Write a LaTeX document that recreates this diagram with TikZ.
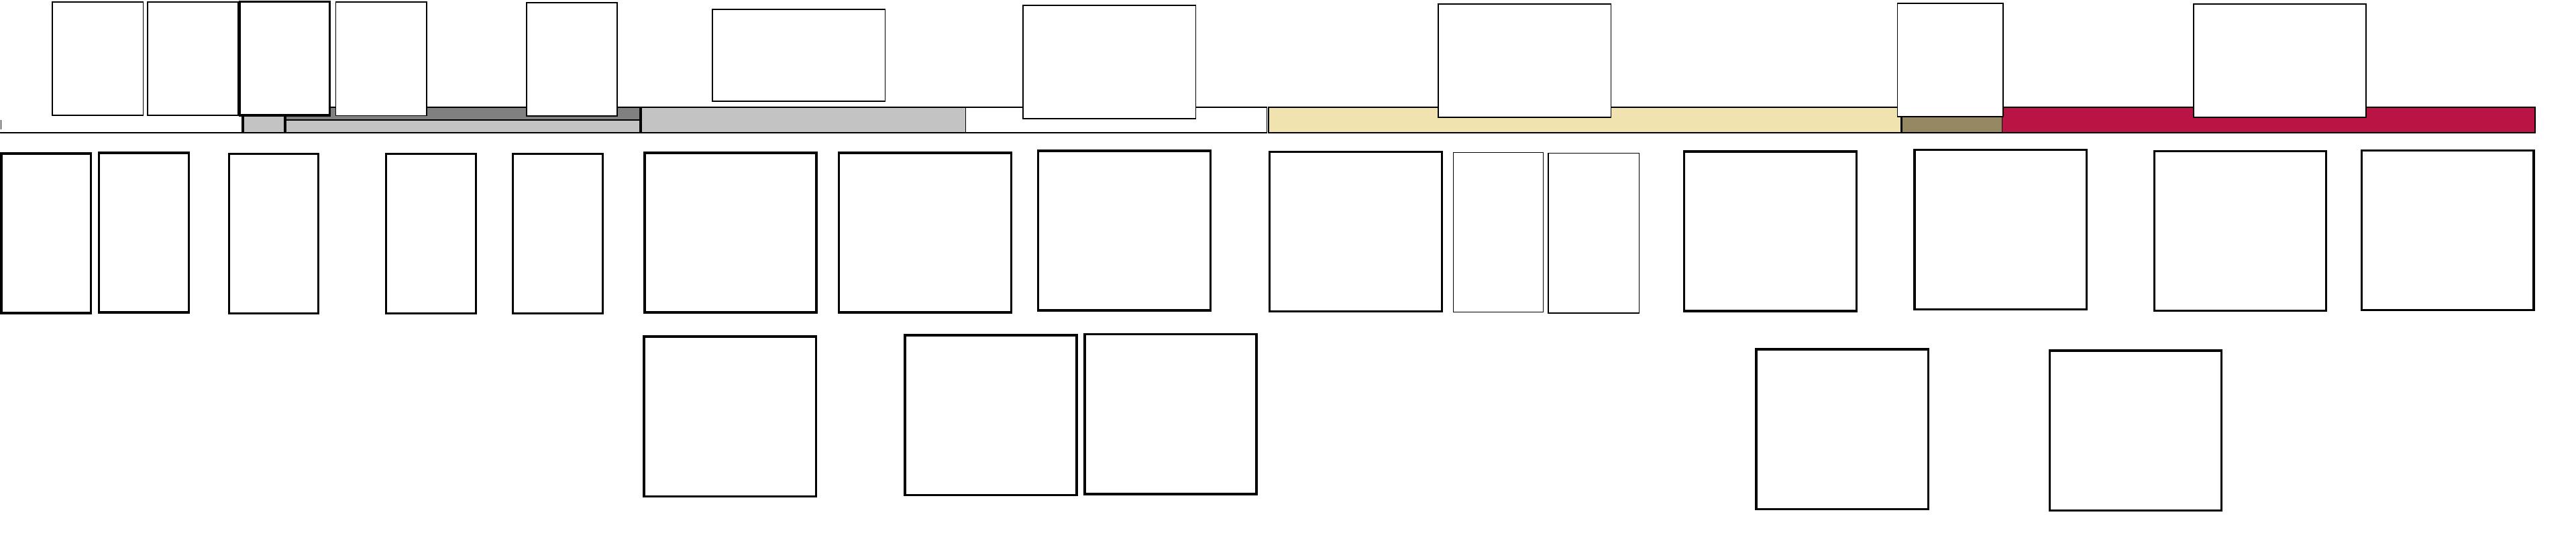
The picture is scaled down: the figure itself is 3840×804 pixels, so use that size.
\documentclass[tikz,border=0pt]{standalone}
\definecolor{lgray}{RGB}{195,195,195}
\definecolor{dgray}{RGB}{128,128,128}
\definecolor{sand}{RGB}{240,227,175}
\definecolor{olive}{RGB}{149,136,98}
\definecolor{crimson}{RGB}{186,20,68}
\tikzset{
  boxs/.style={draw=black, fill=white, line width=0.5pt, inner sep=0pt, outer sep=0pt, anchor=north west},
  boldbox/.style={boxs, line width=0.9pt},
  seg/.style={draw=black, line width=0.5pt},
  segsep/.style={draw=black, line width=1.1pt}
}
\newcommand{\bx}[6][]{\node[boxs,#1, minimum width=#5*0.01cm, minimum height=#6*0.01cm] (#2) at (#3,#4) {};}
\begin{document}
\begin{tikzpicture}[x=0.01cm,y=-0.01cm]
\useasboundingbox (0,0) rectangle (3840,804);
% ---- timeline bar ----
\draw[seg] (0,198.3) -- (362.2,198.3);
\draw[seg] (1.5,179) -- (1.5,193);
\filldraw[seg, fill=lgray] (362.2,160.3) rectangle (424.7,198.3);
\fill[dgray] (424.7,160.3) rectangle (954.7,179.3);
\fill[lgray] (424.7,179.3) rectangle (954.7,198.3);
\draw[seg] (424.7,160.3) rectangle (954.7,198.3);
\draw[seg] (424.7,179.3) -- (954.7,179.3);
\filldraw[seg, fill=lgray] (954.7,160.3) rectangle (1439.5,198.3);
\draw[seg] (1439.5,160.3) rectangle (1888.5,198.3);
\filldraw[seg, fill=sand] (1891,160.3) rectangle (2834.5,198.3);
\filldraw[seg, fill=olive] (2834.5,160.3) rectangle (2984.4,198.3);
\filldraw[seg, fill=crimson] (2984.4,160.3) rectangle (3779,198.3);
\draw[segsep] (362.2,160.3) -- (362.2,198.3);
\draw[segsep] (424.7,160.3) -- (424.7,198.3);
\draw[segsep] (954.7,160.3) -- (954.7,198.3);
\draw[segsep] (2834.5,160.3) -- (2834.5,198.3);
% ---- top row ----
\bx{t1}{77.8}{3.3}{135.8}{169}
\bx{t2}{220}{3.3}{135.2}{169}
\bx[boldbox]{t3}{357.1}{2.7}{134.6}{169.3}
\bx{t4}{500.6}{3.3}{135.2}{169.2}
\bx{t5}{785}{4.3}{135.3}{169}
\bx{t6}{1062}{14.3}{257.5}{136.4}
\bx{t7}{1525}{8.3}{257.5}{169}
\bx{t8}{2144}{6}{257.4}{169.3}
\bx{t9}{2828.5}{5.3}{157.2}{169}
\bx{t10}{3269.6}{6.3}{257.4}{169}
% ---- middle row ----
\bx[boldbox]{m1}{2}{229}{133.2}{238}
\bx[boldbox]{m2}{147.3}{228}{134}{238}
\bx[boldbox]{m3}{341.2}{229.8}{133.3}{238}
\bx[boldbox]{m4}{575.9}{229.8}{133.3}{238}
\bx[boldbox]{m5}{764.7}{229.8}{133.9}{238}
\bx[boldbox]{m6}{961}{228}{256}{238}
\bx[boldbox]{m7}{1250.8}{228}{256.7}{238}
\bx[boldbox]{m8}{1547.5}{225}{256.8}{238}
\bx[boldbox]{m9}{1892.7}{226.5}{256.8}{238}
\bx{m10}{2166.4}{227.5}{134}{238}
\bx{m11}{2308}{228.5}{135.5}{238.5}
\bx[boldbox]{m12}{2510.8}{226}{256.8}{238}
\bx[boldbox]{m13}{2854}{223.5}{256.4}{238}
\bx[boldbox]{m14}{3211.2}{225.5}{256}{238}
\bx[boldbox]{m15}{3520.3}{224.5}{256.7}{238}
% ---- bottom row ----
\bx[boldbox]{b1}{960}{502}{256.4}{238.5}
\bx[boldbox]{b2}{1349}{500}{256}{238.5}
\bx[boldbox]{b3}{1617}{498.5}{256}{238.5}
\bx[boldbox]{b4}{2618}{521}{256.3}{238.5}
\bx[boldbox]{b5}{3055.4}{523}{256}{238.5}
\end{tikzpicture}
\end{document}
